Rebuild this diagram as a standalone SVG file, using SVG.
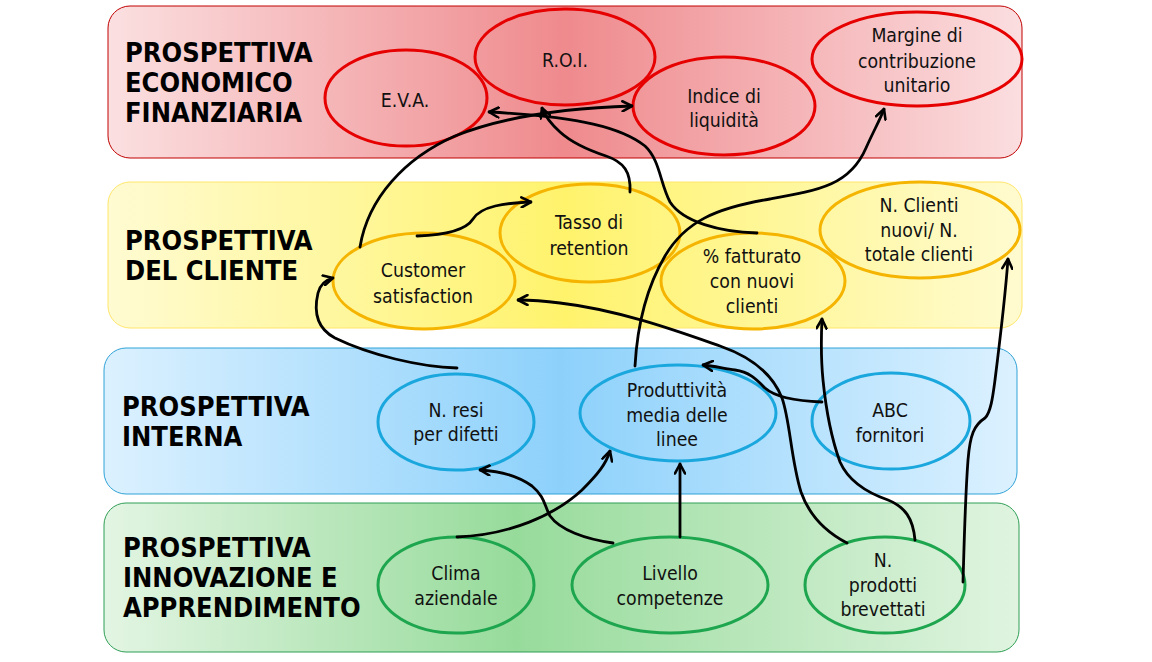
<svg xmlns="http://www.w3.org/2000/svg" width="1152" height="662" viewBox="0 0 1152 662">
<defs>
<linearGradient id="gRed" x1="0" y1="0" x2="1" y2="0">
<stop offset="0" stop-color="#fbe0e1"/><stop offset="0.5" stop-color="#ef8a8d"/><stop offset="1" stop-color="#fbdee0"/>
</linearGradient>
<linearGradient id="gYel" x1="0" y1="0" x2="1" y2="0">
<stop offset="0" stop-color="#fffbd2"/><stop offset="0.5" stop-color="#fff36c"/><stop offset="1" stop-color="#fffbd0"/>
</linearGradient>
<linearGradient id="gBlu" x1="0" y1="0" x2="1" y2="0">
<stop offset="0" stop-color="#dcf1ff"/><stop offset="0.5" stop-color="#8dd1fb"/><stop offset="1" stop-color="#dcf1ff"/>
</linearGradient>
<linearGradient id="gGrn" x1="0" y1="0" x2="1" y2="0">
<stop offset="0" stop-color="#e3f5e3"/><stop offset="0.45" stop-color="#97db9b"/><stop offset="1" stop-color="#e0f4e0"/>
</linearGradient>
<marker id="arr" viewBox="0 0 12 12" refX="11" refY="6" markerWidth="12" markerHeight="12" markerUnits="userSpaceOnUse" orient="auto">
<path d="M1.5,1 L11,6 L1.5,11" fill="none" stroke="#000" stroke-width="2.6" stroke-linecap="round" stroke-linejoin="round"/>
</marker>
</defs>
<style>
.band-label{font-family:"DejaVu Sans Condensed","DejaVu Sans",sans-serif;font-stretch:condensed;font-weight:bold;font-size:27px;fill:#000}
.nt{font-family:"DejaVu Sans Condensed","DejaVu Sans",sans-serif;font-stretch:condensed;font-size:19.3px;fill:#111;text-anchor:middle}
.nr{fill:none;stroke:#e60000;stroke-width:3}
.ny{fill:none;stroke:#f5b400;stroke-width:3}
.nb{fill:none;stroke:#1aa7dd;stroke-width:3}
.ng{fill:none;stroke:#1ea64f;stroke-width:3}
.ca{fill:none;stroke:#000;stroke-width:2.8;stroke-linecap:round;marker-end:url(#arr)}
</style>
<rect width="1152" height="662" fill="#ffffff"/>

<g id="band-economico">
<rect x="108" y="6" width="914" height="152" rx="22" fill="url(#gRed)" stroke="#c00000" stroke-width="1"/>
<text class="band-label" x="125" y="62">PROSPETTIVA</text>
<text class="band-label" x="125" y="92">ECONOMICO</text>
<text class="band-label" x="125" y="122">FINANZIARIA</text>
</g>
<g id="band-cliente">
<rect x="108" y="182" width="914" height="146" rx="22" fill="url(#gYel)" stroke="#ffe66a" stroke-width="1"/>
<text class="band-label" x="125" y="250">PROSPETTIVA</text>
<text class="band-label" x="125" y="280">DEL CLIENTE</text>
</g>
<g id="band-interna">
<rect x="104" y="348" width="913" height="146" rx="22" fill="url(#gBlu)" stroke="#2fa2d6" stroke-width="1"/>
<text class="band-label" x="122" y="416">PROSPETTIVA</text>
<text class="band-label" x="122" y="446">INTERNA</text>
</g>
<g id="band-innovazione">
<rect x="104" y="503" width="915" height="149" rx="22" fill="url(#gGrn)" stroke="#2f9e56" stroke-width="1"/>
<text class="band-label" x="123" y="557">PROSPETTIVA</text>
<text class="band-label" x="123" y="587">INNOVAZIONE E</text>
<text class="band-label" x="123" y="617">APPRENDIMENTO</text>
</g>

<g id="node-eva"><ellipse class="nr" cx="406" cy="98" rx="81" ry="48"/><text class="nt" x="405" y="107">E.V.A.</text></g>
<g id="node-roi"><ellipse class="nr" cx="565" cy="57" rx="90" ry="48"/><text class="nt" x="565" y="67">R.O.I.</text></g>
<g id="node-liquidita"><ellipse class="nr" cx="724" cy="106" rx="91" ry="49"/><text class="nt" x="724" y="103">Indice di</text><text class="nt" x="724" y="127">liquidità</text></g>
<g id="node-margine"><ellipse class="nr" cx="917" cy="59" rx="105" ry="47"/><text class="nt" x="917" y="42">Margine di</text><text class="nt" x="917" y="68">contribuzione</text><text class="nt" x="917" y="92">unitario</text></g>

<g id="node-customer"><ellipse class="ny" cx="424" cy="281" rx="91" ry="48"/><text class="nt" x="423" y="277">Customer</text><text class="nt" x="423" y="303">satisfaction</text></g>
<g id="node-retention"><ellipse class="ny" cx="590" cy="233" rx="90" ry="49"/><text class="nt" x="589" y="229">Tasso di</text><text class="nt" x="589" y="255">retention</text></g>
<g id="node-fatturato"><ellipse class="ny" cx="753" cy="281" rx="92" ry="48"/><text class="nt" x="752" y="263">% fatturato</text><text class="nt" x="752" y="288">con nuovi</text><text class="nt" x="752" y="313">clienti</text></g>
<g id="node-nclienti"><ellipse class="ny" cx="920" cy="230" rx="100" ry="48"/><text class="nt" x="919" y="212">N. Clienti</text><text class="nt" x="919" y="237">nuovi/ N.</text><text class="nt" x="919" y="261">totale clienti</text></g>

<g id="node-resi"><ellipse class="nb" cx="456" cy="422" rx="78" ry="48"/><text class="nt" x="456" y="417">N. resi</text><text class="nt" x="456" y="441">per difetti</text></g>
<g id="node-produttivita"><ellipse class="nb" cx="678" cy="413" rx="98" ry="48"/><text class="nt" x="677" y="397">Produttività</text><text class="nt" x="677" y="422">media delle</text><text class="nt" x="677" y="446">linee</text></g>
<g id="node-abc"><ellipse class="nb" cx="891" cy="421" rx="79" ry="48"/><text class="nt" x="890" y="417">ABC</text><text class="nt" x="890" y="442">fornitori</text></g>

<g id="node-clima"><ellipse class="ng" cx="456" cy="585" rx="78" ry="48"/><text class="nt" x="456" y="580">Clima</text><text class="nt" x="456" y="605">aziendale</text></g>
<g id="node-competenze"><ellipse class="ng" cx="670" cy="585" rx="98" ry="48"/><text class="nt" x="670" y="580">Livello</text><text class="nt" x="670" y="605">competenze</text></g>
<g id="node-brevetti"><ellipse class="ng" cx="885" cy="585" rx="80" ry="48"/><text class="nt" x="883" y="567">N.</text><text class="nt" x="883" y="592">prodotti</text><text class="nt" x="883" y="616">brevettati</text></g>

<g id="connectors">
<path class="ca" d="M417,236 C446,235 466,230 473,219 C481,206 505,203 531,202"/>
<path class="ca" d="M360,247 C368,198 405,158 455,136 C505,116 565,108 632,106"/>
<path class="ca" d="M630,192 C631,172 624,162 606,156 C588,150 572,143 560,132 C550,123 545,116 542,108"/>
<path class="ca" d="M757,233 C720,232 683,222 670,202 C660,183 660,160 645,146 C622,128 582,117 489,112"/>
<path class="ca" d="M635,366 C637,330 645,290 665,256 C685,222 715,208 770,199 C820,190 850,185 866,148 C874,130 880,120 884,109"/>
<path class="ca" d="M457,368 C420,367 370,355 335,338 C316,328 314,310 318,293 C320,285 325,280 333,278"/>
<path class="ca" d="M822,402 C795,401 775,397 765,388 C757,380 750,372 735,370 C722,368 713,366 703,365"/>
<path class="ca" d="M847,543 C822,530 808,512 801,492 C791,460 790,420 782,398 C775,380 760,360 720,346 C680,332 620,310 560,303 C545,301 530,300 518,300"/>
<path class="ca" d="M915,540 C913,518 905,507 888,500 C865,492 848,480 840,462 C832,440 826,410 823,380 C821,360 821,340 822,319"/>
<path class="ca" d="M963,582 C964,550 965,500 968,460 C970,435 974,425 985,418 C991,412 993,395 995,380 C1000,340 1005,300 1008,259"/>
<path class="ca" d="M457,537 C510,535 555,515 582,490 C598,474 606,464 610,451"/>
<path class="ca" d="M613,543 C585,539 560,530 550,516 C544,505 545,497 532,486 C518,476 500,471 480,470"/>
<path class="ca" d="M680,537 L680,464"/>
</g>
</svg>
